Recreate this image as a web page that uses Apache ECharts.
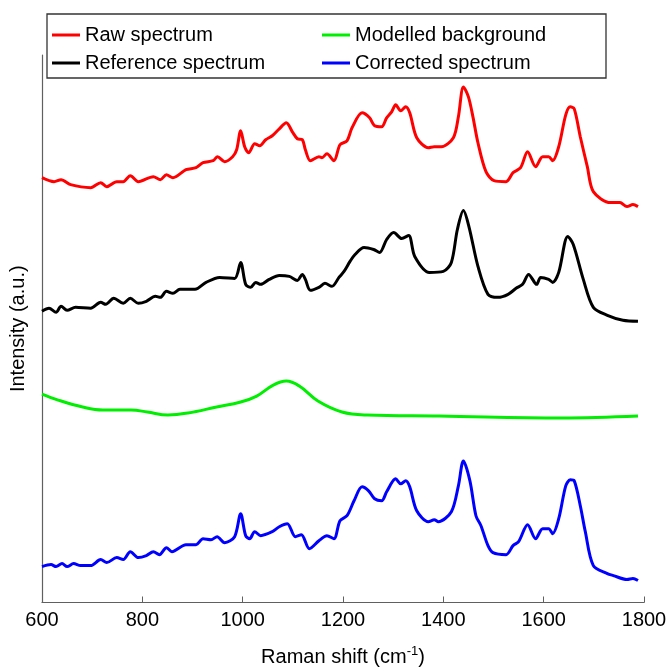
<!DOCTYPE html>
<html>
<head>
<meta charset="utf-8">
<script src="https://cdn.jsdelivr.net/npm/echarts@6/dist/echarts.min.js"></script>
<style>
  body { margin: 0; background: #fff; }
  #main { width: 670px; height: 672px; }
</style>
</head>
<body>
<div id="main"></div>
<script>
// 数据 (读自原图, 强度为任意单位)
var rawShift = [600,624,638,657,697,717,729,749,762,776,792,822,836,848,861,887,907,921,941,950,964,980,988,996,1004,1012,1024,1034,1046,1059,1073,1087,1099,1109,1119,1125,1135,1152,1158,1168,1182,1194,1208,1218,1238,1253,1263,1277,1287,1297,1305,1315,1325,1333,1347,1370,1382,1396,1420,1430,1440,1450,1459,1469,1485,1501,1525,1539,1554,1568,1584,1598,1610,1618,1630,1644,1653,1661,1673,1687,1699,1733,1752,1766,1778,1788];
var rawIntensity = [426,422,424,419,416,421,417,422,422,428,422,427,424,429,426,434,436,441,443,447,442,447,454,473,457,451,460,458,464,468,475,481,472,465,464,454,443,447,446,450,443,459,463,476,491,486,478,477,486,492,499,493,497,491,466,456,457,457,466,487,517,507,487,461,432,423,422,431,436,452,437,447,447,443,457,489,497,495,467,437,412,401,401,397,399,397];

var refShift = [600,614,628,638,650,667,697,717,727,743,762,776,792,808,826,836,848,861,875,905,927,954,984,996,1006,1016,1026,1036,1053,1073,1093,1109,1119,1125,1135,1152,1164,1178,1192,1202,1214,1224,1242,1261,1273,1287,1301,1317,1331,1343,1372,1400,1416,1428,1440,1451,1469,1489,1509,1529,1545,1558,1570,1586,1594,1610,1618,1630,1648,1659,1679,1699,1727,1758,1788];
var refIntensity = [292,295,291,297,293,296,295,301,299,305,300,305,300,302,307,306,312,310,314,314,321,326,325,341,319,316,321,319,324,328,327,323,329,324,313,316,320,317,326,332,342,349,356,354,351,364,371,365,368,347,331,332,341,374,393,377,337,309,306,309,315,319,329,319,326,324,321,331,367,359,324,296,288,283,282];

var bgShift = [600,632,681,721,778,810,851,891,948,996,1028,1061,1087,1113,1150,1198,1248,1392,1636,1788];
var bgIntensity = [209,203,196,193,193,191,188,190,196,201,207,218,222,217,202,191,188,187,185,187];

var corrShift = [600,618,628,640,650,663,677,697,717,729,749,762,776,792,808,822,834,848,859,887,907,921,937,949,964,984,996,1006,1014,1024,1036,1059,1073,1089,1105,1117,1133,1152,1168,1182,1194,1208,1222,1238,1251,1263,1277,1287,1305,1315,1325,1333,1347,1370,1382,1390,1416,1430,1440,1453,1465,1475,1489,1499,1525,1539,1550,1568,1584,1598,1610,1618,1630,1644,1653,1661,1673,1683,1699,1727,1739,1766,1778,1788];
var corrIntensity = [36,38,36,39,36,39,37,37,43,40,45,43,51,45,47,51,48,55,51,58,58,64,63,66,60,66,89,67,64,71,67,71,76,79,66,68,54,62,67,64,82,87,102,116,112,104,102,111,124,119,122,116,92,81,83,81,91,117,142,122,87,77,57,50,48,57,61,78,64,74,74,69,84,117,123,122,97,71,37,29,27,23,24,22];

var xTicks = [600, 800, 1000, 1200, 1400, 1600, 1800];

function pairs(xs, ys) {
    return xs.map(function (x, i) { return [x, ys[i]]; });
}

var myChart = echarts.init(document.getElementById('main'));

var font = 'Liberation Sans, Arial, sans-serif';
var axisColor = '#606060';

var option = {
    backgroundColor: '#fff',
    animation: false,
    grid: { left: 38, right: 26, top: 55, bottom: 68 },
    //图例外框
    graphic: [{
        type: 'rect',
        shape: { x: 47, y: 14, width: 559, height: 64 },
        style: { fill: '#fff', stroke: '#333', lineWidth: 1.3 },
        z: 10
    }],
    legend: [{
        orient: 'vertical',
        left: 52, top: 24,
        padding: 0,
        itemGap: 6,
        itemWidth: 28, itemHeight: 3,
        icon: 'rect',
        textStyle: { fontFamily: font, fontSize: 20, color: '#000', lineHeight: 22 },
        data: ['Raw spectrum', 'Reference spectrum'],
        z: 20
    }, {
        orient: 'vertical',
        left: 322, top: 24,
        padding: 0,
        itemGap: 6,
        itemWidth: 28, itemHeight: 3,
        icon: 'rect',
        textStyle: { fontFamily: font, fontSize: 20, color: '#000', lineHeight: 22 },
        data: ['Modelled background', 'Corrected spectrum'],
        z: 20
    }],
    xAxis: {
        type: 'value',
        min: 600, max: 1800, interval: 200,
        name: '{a|Raman shift (cm}{s|-1}{a|)}',
        nameLocation: 'middle',
        nameGap: 42,
        nameTextStyle: {
            rich: {
                a: { fontFamily: font, fontSize: 20, color: '#000' },
                s: { fontFamily: font, fontSize: 13, color: '#000', padding: [0, 0, 12, 0] }
            }
        },
        axisLine: { lineStyle: { color: axisColor, width: 1.2 } },
        axisTick: { inside: true, length: 6, lineStyle: { color: axisColor } },
        axisLabel: {
            margin: 8,
            fontFamily: font, fontSize: 20, color: '#000',
            customValues: xTicks,
            formatter: function (v) { return String(v); }
        },
        splitLine: { show: false }
    },
    yAxis: {
        type: 'value',
        min: 0, max: 549,
        name: 'Intensity (a.u.)',
        nameLocation: 'middle',
        nameRotate: 90,
        nameGap: 14,
        nameTextStyle: { fontFamily: font, fontSize: 20, color: '#000' },
        axisLine: { show: true, lineStyle: { color: axisColor, width: 1.2 } },
        axisTick: { show: false },
        axisLabel: { show: false },
        splitLine: { show: false }
    },
    series: [{
        name: 'Raw spectrum',
        type: 'line',
        data: pairs(rawShift, rawIntensity),
        smooth: 0.3, showSymbol: false,
        itemStyle: { color: '#ff0000' },
        lineStyle: { color: '#ff0000', width: 3 }
    }, {
        name: 'Reference spectrum',
        type: 'line',
        data: pairs(refShift, refIntensity),
        smooth: 0.3, showSymbol: false,
        itemStyle: { color: '#000000' },
        lineStyle: { color: '#000000', width: 3 }
    }, {
        name: 'Modelled background',
        type: 'line',
        data: pairs(bgShift, bgIntensity),
        smooth: 0.4, showSymbol: false,
        itemStyle: { color: '#00ee00' },
        lineStyle: { color: '#00ee00', width: 3 }
    }, {
        name: 'Corrected spectrum',
        type: 'line',
        data: pairs(corrShift, corrIntensity),
        smooth: 0.3, showSymbol: false,
        itemStyle: { color: '#0000ff' },
        lineStyle: { color: '#0000ff', width: 3 }
    }]
};

myChart.setOption(option);
</script>
</body>
</html>
